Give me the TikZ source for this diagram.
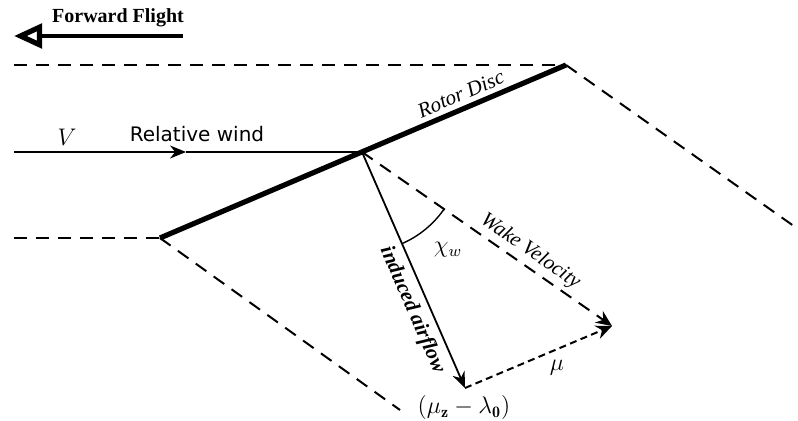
\documentclass[tikz,border=0pt]{standalone}
\usepackage{amsmath,amssymb}
\usepackage{fontspec}
\newfontfamily\timesfont{Liberation Serif}
\newfontfamily\dejavufont{DejaVu Sans}
\usetikzlibrary{arrows.meta,positioning}

\begin{document}
\begin{tikzpicture}[
  x=0.5pt,y=-0.5pt,
  font=\timesfont,
  wakeline/.style={line width=1pt,dash pattern=on 6.5pt off 4.5pt},
  shortdash/.style={line width=1pt,dash pattern=on 3.5pt off 2.2pt},
  disc/.style={line width=2.6pt},
  vec/.style={line width=0.9pt,-{Stealth[length=8pt,width=6.5pt]}},
  slopelbl/.style={font=\timesfont\fontsize{10.5}{12}\selectfont\itshape},
  mathlbl/.style={font=\fontsize{12}{14}\selectfont,inner sep=1pt}
]
\useasboundingbox (0,0) rectangle (798,421);
% rotor disc and wake boundaries
\coordinate (lead)  at (566,65);
\coordinate (trail) at (160,238);
\coordinate (hub)   at (362,152);
\coordinate (topin) at (14,65);
\coordinate (botin) at (14,238);
\coordinate (leadout)  at (798,229);
\coordinate (trailout) at (400,410);
\draw[wakeline] (topin) -- (lead);
\draw[wakeline] (botin) -- (trail);
\draw[wakeline] (lead) -- (leadout);
\draw[wakeline] (trail) -- (trailout);
\draw[disc] (trail) -- node[above,sloped,pos=0.755,inner sep=2.5pt,slopelbl]{Rotor Disc} (lead);

% forward flight
\coordinate (fftail) at (183,36);
\coordinate (ffhead) at (14,36);
\draw[line width=2pt,-{Triangle[open,length=14pt,width=12pt,line width=2.6pt]}] (fftail) -- (ffhead);
\node[font=\timesfont\bfseries] (fflabel) at (118,18) {Forward Flight};

% relative wind
\coordinate (windin)  at (14,152);
\coordinate (windmid) at (186,152);
\draw[vec] (windin) -- (windmid);
\draw[line width=0.9pt] (windmid) -- (hub);
\node[mathlbl] (vlbl) at (67,137) {$V$};
\node[font=\dejavufont,inner sep=1pt] (windlbl) at (197,134) {Relative wind};

% velocity triangle
\coordinate (indtip)  at (465,388);
\coordinate (waketip) at (612,326);
\draw[wakeline,-{Stealth[length=8pt,width=7pt]}] (hub) -- node[above,sloped,pos=0.64,inner sep=2pt,slopelbl]{Wake Velocity} (waketip);
\draw[vec] (hub) -- node[below,sloped,pos=0.64,slopelbl]{\bfseries induced airflow} (indtip);
\draw[shortdash,-{Stealth[length=8pt,width=7pt]}] (indtip) -- (waketip);
\draw[line width=0.7pt] (hub) ++(66.4:100) arc[start angle=66.4,end angle=34.8,radius=100];
\node[mathlbl] (chilbl) at (448,250) {$\chi_w$};
\node[mathlbl] (mulbl) at (557,368) {$\mu$};
\node[mathlbl] (lamlbl) at (464,408) {$(\mu_{\mathbf{z}}-\lambda_{\mathbf{0}})$};
\end{tikzpicture}
\end{document}
